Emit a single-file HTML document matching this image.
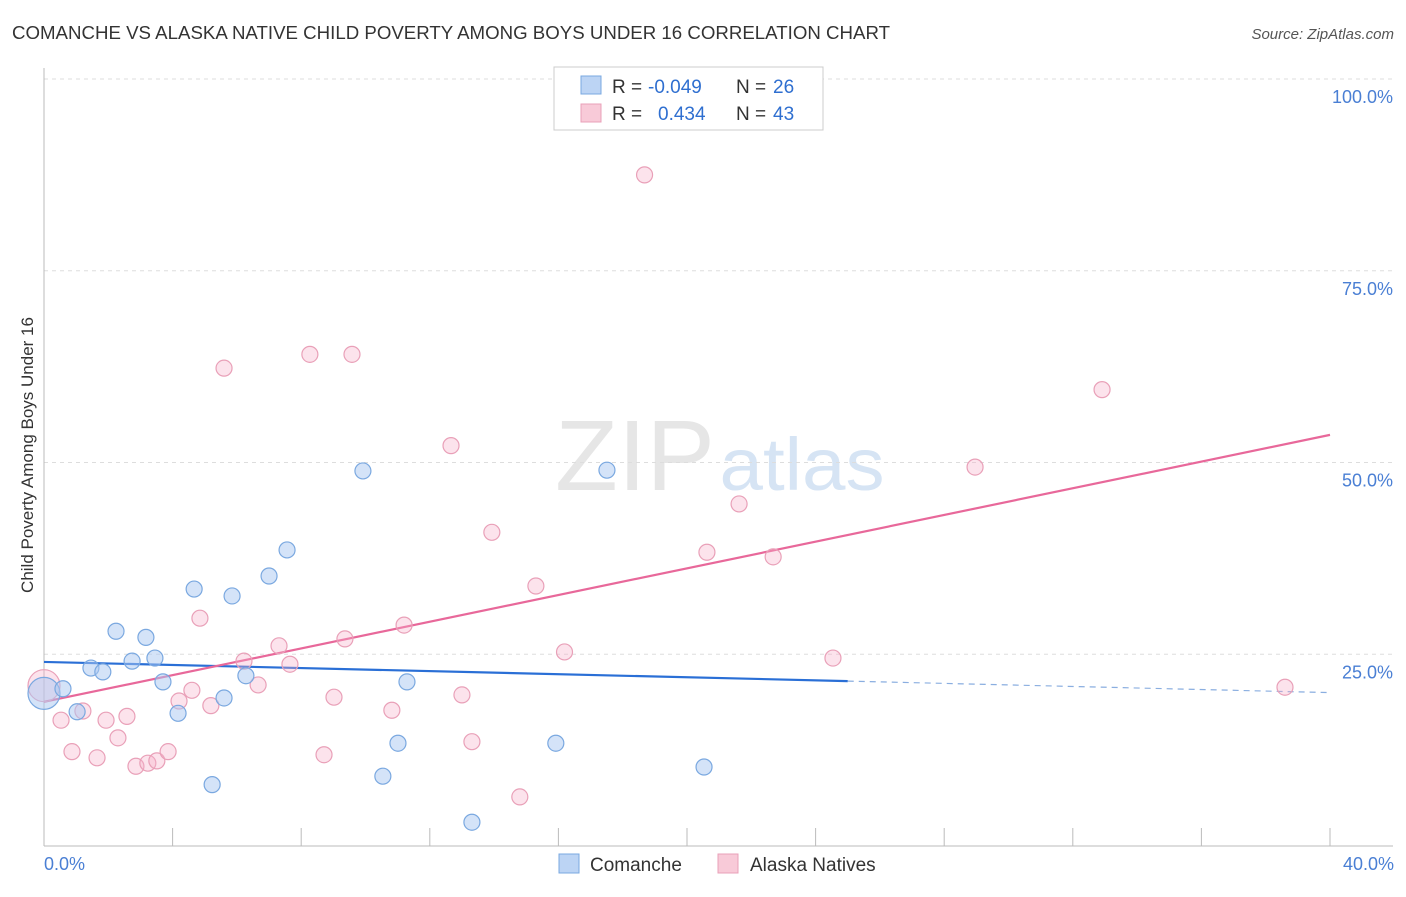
<!DOCTYPE html>
<html><head><meta charset="utf-8"><style>
body{margin:0;background:#fff;font-family:"Liberation Sans",sans-serif;}
svg text{font-family:"Liberation Sans",sans-serif;}
</style></head><body>
<svg width="1406" height="892" viewBox="0 0 1406 892">
<text x="12" y="39" font-size="18" fill="#333" textLength="878" lengthAdjust="spacingAndGlyphs">COMANCHE VS ALASKA NATIVE CHILD POVERTY AMONG BOYS UNDER 16 CORRELATION CHART</text>
<text x="1394" y="39" font-size="15" fill="#555" text-anchor="end" font-style="italic">Source: ZipAtlas.com</text>
<g>
<text x="635" y="490" font-size="100" fill="#e6e6e6" text-anchor="middle" font-family="Liberation Serif" textLength="160" lengthAdjust="spacingAndGlyphs">ZIP</text>
<text x="802" y="490" font-size="74" fill="#d6e4f4" text-anchor="middle" textLength="165" lengthAdjust="spacingAndGlyphs">atlas</text>
</g>
<g id="grid"></g>
<g id="axes"></g>
<g id="trends"></g>
<g id="points"></g>
<text x="-455" y="33" transform="rotate(-90)" font-size="17" fill="#333" text-anchor="middle">Child Poverty Among Boys Under 16</text>
<text x="44" y="870" font-size="18" fill="#4a7fd4">0.0%</text>
<text x="1394" y="870" font-size="18" fill="#4a7fd4" text-anchor="end">40.0%</text>
<g>
<rect x="554" y="67" width="269" height="63" fill="#fff" stroke="#ccc"/>
<rect x="581" y="76" width="20" height="18" fill="#bcd4f4" stroke="#7aa8e0"/>
<rect x="581" y="104" width="20" height="18" fill="#f8cad8" stroke="#e9a0b8"/>
<text x="612" y="93" font-size="19" fill="#333">R = <tspan x="648" fill="#2f6fd0">-0.049</tspan><tspan x="736">N = </tspan><tspan x="773" fill="#2f6fd0">26</tspan></text>
<text x="612" y="120" font-size="19" fill="#333">R = <tspan x="658" fill="#2f6fd0">0.434</tspan><tspan x="736">N = </tspan><tspan x="773" fill="#2f6fd0">43</tspan></text>
</g>
<g>
<rect x="559" y="854" width="20" height="19" fill="#bcd4f4" stroke="#7aa8e0"/>
<text x="590" y="871" font-size="19" fill="#333">Comanche</text>
<rect x="718" y="854" width="20" height="19" fill="#f8cad8" stroke="#e9a0b8"/>
<text x="750" y="871" font-size="19" fill="#333">Alaska Natives</text>
</g>
</svg>
<script>
const yTicks=[25,50,75,100];
const yTickLabels=["25.0%","50.0%","75.0%","100.0%"];
const xTicks=[0,4,8,12,16,20,24,28,32,36,40];
const comancheX=[0,0.59,1.03,1.46,1.83,2.24,2.74,3.17,3.45,3.70,4.17,4.67,5.23,5.60,5.85,6.28,7.00,7.56,9.92,10.54,11.01,11.29,13.31,15.92,17.51,20.53];
const comancheY=[19.9,20.5,17.5,23.2,22.7,28.0,24.1,27.2,24.5,21.4,17.3,33.5,8.0,19.3,32.6,22.2,35.2,38.6,48.9,9.1,13.4,21.4,3.1,13.4,49.0,10.3];
const alaskaX=[0,0.53,0.87,1.21,1.65,1.93,2.30,2.58,2.86,3.23,3.51,3.86,4.20,4.60,4.85,5.19,5.60,6.22,6.66,7.31,7.65,8.27,8.71,9.02,9.36,9.58,10.82,11.20,12.66,13.00,13.31,13.93,14.80,15.30,16.19,18.68,20.62,21.62,22.68,24.54,28.96,32.91,38.60];
const alaskaY=[20.9,16.4,12.3,17.6,11.5,16.4,14.1,16.9,10.4,10.8,11.1,12.3,18.9,20.3,29.7,18.3,62.3,24.1,21.0,26.1,23.7,64.1,11.9,19.4,27.0,64.1,17.7,28.8,52.2,19.7,13.6,40.9,6.4,33.9,25.3,87.5,38.3,44.6,37.7,24.5,49.4,59.5,20.7];
const comancheTrend=[24.0,20.0]; // y at x=0 and x=40
const alaskaTrend=[18.8,53.6];
const X=v=>44+v*32.15, Y=v=>846-v*7.67;
const NS="http://www.w3.org/2000/svg";
function mk(t,a,p){const e=document.createElementNS(NS,t);for(const k in a)e.setAttribute(k,a[k]);p.appendChild(e);return e;}
const grid=document.getElementById('grid'),axes=document.getElementById('axes'),tr=document.getElementById('trends'),pts=document.getElementById('points');
yTicks.forEach((t,i)=>{
 const l=mk('line',{x1:44,x2:1393,y1:Y(t),y2:Y(t),stroke:'#ddd','stroke-dasharray':'4,4'},grid);
 
 
 const tx=mk('text',{x:1393,y:Y(t)+24,'font-size':18,fill:'#4a7fd4','text-anchor':'end'},grid);
 tx.textContent=yTickLabels[i];
 
 
});
const xa=mk('line',{x1:44,x2:1393,y1:846,y2:846,stroke:'#bbb'},axes);


const ya=mk('line',{x1:44,x2:44,y1:68,y2:846,stroke:'#bbb'},axes);


xTicks.forEach(t=>{
 const l=mk('line',{x1:X(t),x2:X(t),y1:828,y2:846,stroke:'#bbb'},axes);
 
 
});
const xSolidEnd=25;
const cy=x=>comancheTrend[0]+(comancheTrend[1]-comancheTrend[0])*x/40;
const t1=mk('line',{x1:X(0),y1:Y(cy(0)),x2:X(xSolidEnd),y2:Y(cy(xSolidEnd)),stroke:'#2a6fd6','stroke-width':2.2},tr);


const t2=mk('line',{x1:X(xSolidEnd),y1:Y(cy(xSolidEnd)),x2:X(40),y2:Y(cy(40)),stroke:'#8aaee0','stroke-width':1.2,'stroke-dasharray':'6,5'},tr);


const t3=mk('line',{x1:X(0),y1:Y(alaskaTrend[0]),x2:X(40),y2:Y(alaskaTrend[1]),stroke:'#e8689a','stroke-width':2.2},tr);


alaskaX.forEach((x,i)=>{
 const c=mk('circle',{cx:X(x),cy:Y(alaskaY[i]),r:i==0?16:8,fill:'rgba(246,176,200,0.35)',stroke:'#e9a0b8','stroke-width':1.2},pts);
 
 
});
comancheX.forEach((x,i)=>{
 const c=mk('circle',{cx:X(x),cy:Y(comancheY[i]),r:i==0?16:8,fill:'rgba(170,200,242,0.5)',stroke:'#7aa8e0','stroke-width':1.2},pts);
 
 
});
</script>
</body></html>
